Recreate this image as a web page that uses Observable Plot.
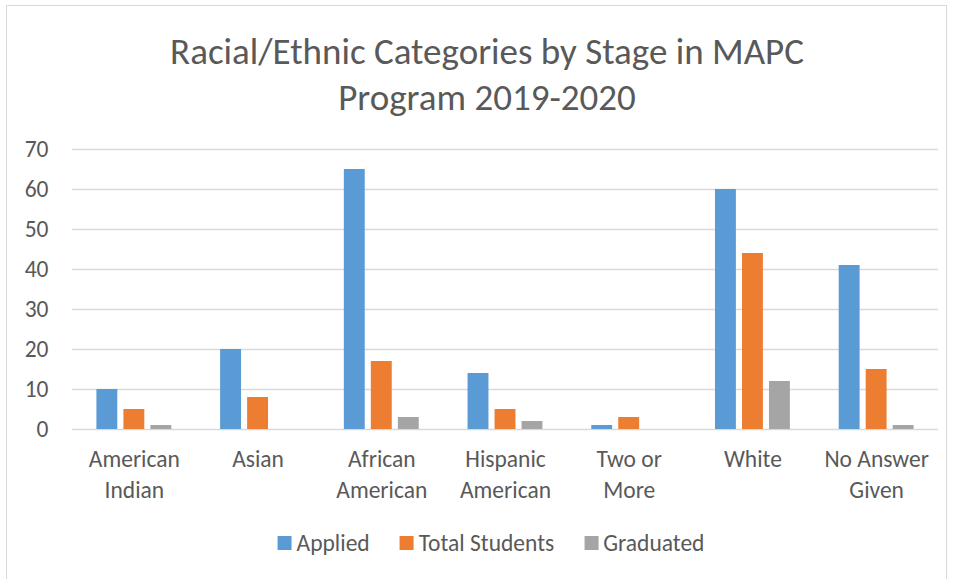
<!DOCTYPE html>
<html>
<head>
<meta charset="utf-8">
<script src="https://cdn.jsdelivr.net/npm/d3@7"></script>
<script src="https://cdn.jsdelivr.net/npm/@observablehq/plot@0.6"></script>
<style>
  body { margin: 0; background: #fff; }
  #wrap { position: relative; width: 957px; height: 579px; overflow: hidden; font-family: Carlito, Lato, "Open Sans", sans-serif; color: #595959; }
  #frame { position: absolute; left: 6px; top: 5px; width: 941px; height: 620px; border: 1.5px solid #d9d9d9; box-sizing: border-box; }
  #title { position: absolute; left: 487px; top: 29px; transform: translateX(-50%); white-space: nowrap; text-align: center; font-size: 37px; line-height: 46px; color: #595959; }
  #chart { position: absolute; left: 0; top: 0; }
  #legend { position: absolute; left: 491px; top: 529px; transform: translateX(-50%); display: flex; gap: 30px; white-space: nowrap; font-size: 23.5px; line-height: 28px; }
  .item { display: flex; align-items: center; gap: 5px; }
  .sw { width: 14px; height: 14px; display: inline-block; }
</style>
</head>
<body>
<div id="wrap">
  <div id="frame"></div>
  <div id="title">Racial/Ethnic Categories by Stage in MAPC<br>Program 2019-2020</div>
  <div id="chart"></div>
  <div id="legend"></div>
</div>
<script>
const categories = ["American Indian", "Asian", "African American", "Hispanic American", "Two or More", "White", "No Answer Given"];
const categoryLabels = ["American\nIndian", "Asian", "African\nAmerican", "Hispanic\nAmerican", "Two or\nMore", "White", "No Answer\nGiven"];
const seriesNames = ["Applied", "Total Students", "Graduated"];
const seriesColors = ["#5B9BD5", "#ED7D31", "#A5A5A5"];
const applied = [10, 20, 65, 14, 1, 60, 41];
const totalStudents = [5, 8, 17, 5, 3, 44, 15];
const graduated = [1, 0, 3, 2, 0, 12, 1];
const yTicks = [0, 10, 20, 30, 40, 50, 60, 70];

const seriesValues = [applied, totalStudents, graduated];
const rows = seriesNames.map((s, si) => categories.map((c, ci) => ({category: c, series: s, value: seriesValues[si][ci]})));
const labelOf = new Map(categories.map((c, i) => [c, categoryLabels[i]]));
const offsets = [-27, 0, 27];

const plot = Plot.plot({
  width: 957,
  height: 579,
  marginLeft: 72,
  marginRight: 19,
  marginTop: 149,
  marginBottom: 150,
  style: {fontFamily: "Carlito, Lato, 'Open Sans', sans-serif", background: "transparent", overflow: "visible"},
  x: {domain: categories, paddingInner: 0.831, paddingOuter: 0.4155, round: false, axis: null},
  y: {domain: [0, 70], axis: null},
  color: {domain: seriesNames, range: seriesColors},
  marks: [
    Plot.ruleY(yTicks, {y: d => d, stroke: "#d9d9d9", strokeWidth: 1.5}),
    ...rows.map((data, si) => Plot.barY(data, {x: "category", y: "value", fill: "series", dx: offsets[si]})),
    Plot.axisY(yTicks, {tickSize: 0, tickPadding: 24, fontSize: 23.5, fill: "#595959", label: null}),
    Plot.text(categories, {x: d => d, text: d => labelOf.get(d), frameAnchor: "bottom", lineAnchor: "top", dy: 16, lineHeight: 1.3, fontSize: 23.5, fill: "#595959"})
  ]
});
document.getElementById("chart").appendChild(plot);

const legend = document.getElementById("legend");
seriesNames.forEach((s, i) => {
  const it = document.createElement("div");
  it.className = "item";
  it.innerHTML = `<span class="sw" style="background:${seriesColors[i]}"></span><span>${s}</span>`;
  legend.appendChild(it);
});
</script>
</body>
</html>
